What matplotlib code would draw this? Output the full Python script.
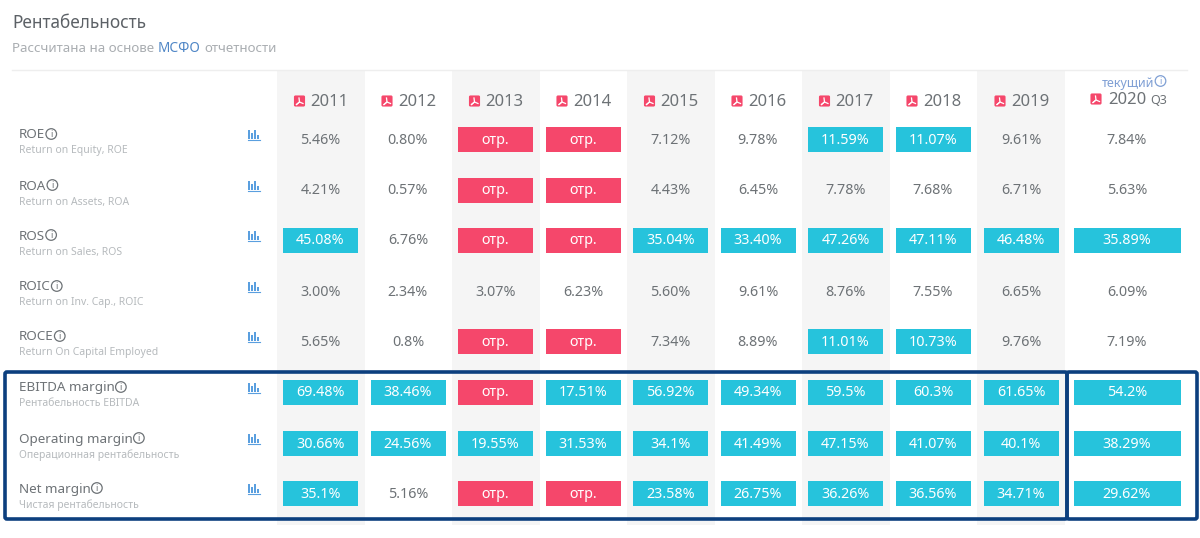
import matplotlib
matplotlib.use('Agg')
import matplotlib.pyplot as plt
from matplotlib.patches import Rectangle, Circle, FancyBboxPatch

plt.rcParams['font.family'] = ['Noto Sans', 'DejaVu Sans']

NEG = 'отр.'
years = ['2011', '2012', '2013', '2014', '2015', '2016', '2017', '2018', '2019', '2020']
row_names = ['ROE', 'ROA', 'ROS', 'ROIC', 'ROCE', 'EBITDA margin', 'Operating margin', 'Net margin']
row_subs = ['Return on Equity, ROE', 'Return on Assets, ROA', 'Return on Sales, ROS', 'Return on Inv. Cap., ROIC',
            'Return On Capital Employed', 'Рентабельность EBITDA', 'Операционная рентабельность', 'Чистая рентабельность']

roe = ['5.46%', '0.80%', NEG, NEG, '7.12%', '9.78%', '11.59%', '11.07%', '9.61%', '7.84%']
roa = ['4.21%', '0.57%', NEG, NEG, '4.43%', '6.45%', '7.78%', '7.68%', '6.71%', '5.63%']
ros = ['45.08%', '6.76%', NEG, NEG, '35.04%', '33.40%', '47.26%', '47.11%', '46.48%', '35.89%']
roic = ['3.00%', '2.34%', '3.07%', '6.23%', '5.60%', '9.61%', '8.76%', '7.55%', '6.65%', '6.09%']
roce = ['5.65%', '0.8%', NEG, NEG, '7.34%', '8.89%', '11.01%', '10.73%', '9.76%', '7.19%']
ebitda = ['69.48%', '38.46%', NEG, '17.51%', '56.92%', '49.34%', '59.5%', '60.3%', '61.65%', '54.2%']
operating = ['30.66%', '24.56%', '19.55%', '31.53%', '34.1%', '41.49%', '47.15%', '41.07%', '40.1%', '38.29%']
net = ['35.1%', '5.16%', NEG, NEG, '23.58%', '26.75%', '36.26%', '36.56%', '34.71%', '29.62%']
rows = [roe, roa, ros, roic, roce, ebitda, operating, net]

# which cells have the teal background
teal_roe = [0, 0, 0, 0, 0, 0, 1, 1, 0, 0]
teal_roa = [0] * 10
teal_ros = [1, 0, 0, 0, 1, 1, 1, 1, 1, 1]
teal_roic = [0] * 10
teal_roce = [0, 0, 0, 0, 0, 0, 1, 1, 0, 0]
teal_ebitda = [1, 1, 0, 1, 1, 1, 1, 1, 1, 1]
teal_operating = [1] * 10
teal_net = [1, 0, 0, 0, 1, 1, 1, 1, 1, 1]
teal = [teal_roe, teal_roa, teal_ros, teal_roic, teal_roce, teal_ebitda, teal_operating, teal_net]

col_x = [320.5, 408, 495.5, 583, 670.5, 758, 845.5, 933, 1021, 1127]
row_y = [139, 190, 240, 291, 341, 392, 443, 493]

TEAL = '#26c3dc'
RED = '#f5476b'
GREY = '#6d7276'
LIGHT = '#b6babd'
BLUE = '#5a9fdf'
NAVY = '#0c3f7e'

fig = plt.figure(figsize=(12, 5.38), dpi=100)
ax = fig.add_axes([0, 0, 1, 1])
ax.set_xlim(0, 1200)
ax.set_ylim(538, 0)
ax.axis('off')


def put(x, y, s, size, color, ha='left', **kw):
    # va center sits a bit high for this font
    return ax.text(x, y + 1, s, fontsize=size, color=color, ha=ha, va='center', **kw)


def right_of(t):
    return t.get_window_extent(fig.canvas.get_renderer()).x1


def info(x, y, color):
    ax.add_patch(Circle((x, y), 5.3, fill=False, ec=color, lw=0.9, zorder=3))
    ax.text(x, y + 0.5, 'i', fontsize=6.5, color=color, ha='center', va='center', zorder=3)


def pdf_icon(x, y):
    ax.add_patch(FancyBboxPatch((x + 1, y - 5), 10, 10, boxstyle='round,pad=0,rounding_size=1',
                                fc=RED, ec=RED, lw=0.8, zorder=3))
    ax.plot([x + 3, x + 6, x + 9.5], [y + 3.5, y + 1, y + 2.5], color='white', lw=0.9, zorder=4)
    ax.plot([x + 5.5, x + 6, x + 3], [y - 3, y + 1, y + 3.5], color='white', lw=0.9, zorder=4)


def bars_icon(x, y):
    for dx, h in zip([1, 4, 7, 10], [9, 6, 9, 4]):
        ax.add_patch(Rectangle((x + dx, y + 5 - h), 2, h, fc=BLUE, ec='none', zorder=3))
    ax.plot([x + 0.5, x + 12.5], [y + 5.5, y + 5.5], color=BLUE, lw=0.8, zorder=3)


# header
put(12, 22.5, 'Рентабельность', 12.4, '#5c6166')
t = put(12, 47, 'Рассчитана на основе ', 9.6, '#a9adb1')
t = put(right_of(t), 47, 'МСФО', 9.8, '#4f86c6')
put(right_of(t) + 4, 47, 'отчетности', 9.6, '#a9adb1')
ax.plot([12, 1187], [69.5, 69.5], color='#eeeeee', lw=1, zorder=1)

# shaded columns
for i in range(0, 9, 2):
    ax.add_patch(Rectangle((col_x[i] - 44, 70), 88, 455, fc='#f5f5f5', ec='none', zorder=0))

# year labels
for i, year in enumerate(years[:-1]):
    pdf_icon(col_x[i] - 27, 101)
    put(col_x[i] + 9, 101, year, 12, GREY, ha='center')
pdf_icon(1090, 99)
t = put(1108, 99, years[-1], 12, GREY)
put(right_of(t) + 4, 100, 'Q3', 9, GREY)
t = put(1102, 82, 'текущий', 9, '#7f9fd4')
info(right_of(t) + 6, 81, '#7f9fd4')

# row labels
for name, sub, y in zip(row_names, row_subs, row_y):
    t = put(19, y - 5, name, 9.7, GREY)
    info(right_of(t) + 6, y - 5, GREY)
    put(19, y + 11, sub, 7.5, LIGHT)
    bars_icon(247, y - 5)

# value cells
for r, y in enumerate(row_y):
    for c, x in enumerate(col_x):
        val = rows[r][c]
        half = 53.5 if c == 9 else 37.5
        if val == NEG:
            ax.add_patch(Rectangle((x - half, y - 12.5), half * 2, 25, fc=RED, ec='none', zorder=2))
            put(x, y, val, 10.3, 'white', ha='center', zorder=3)
        elif teal[r][c]:
            ax.add_patch(Rectangle((x - half, y - 12.5), half * 2, 25, fc=TEAL, ec='none', zorder=2))
            put(x, y, val, 10.3, 'white', ha='center', zorder=3)
        else:
            put(x, y, val, 10.3, GREY, ha='center', zorder=3)

# navy frames
for x0, x1 in [(5, 1067), (1067, 1197)]:
    ax.add_patch(FancyBboxPatch((x0, 372), x1 - x0, 147, boxstyle='round,pad=0,rounding_size=2',
                                fill=False, ec=NAVY, lw=2.6, zorder=5))

fig.savefig('out.png', dpi=100)
